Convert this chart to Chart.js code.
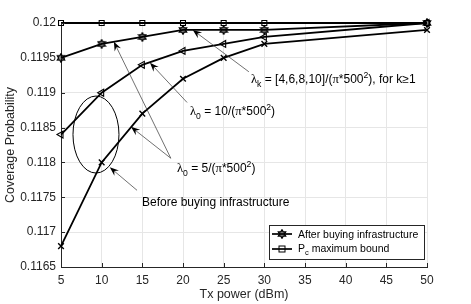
<!DOCTYPE html>
<html>
<head>
<meta charset="utf-8">
<script src="https://cdn.jsdelivr.net/npm/chart.js@4.4.1/dist/chart.umd.min.js"></script>
<style>
html, body { margin: 0; padding: 0; background: #fff; }
</style>
</head>
<body>
<canvas id="GraficoCobertura" width="471" height="304"></canvas>
<script>
/* valores */
var txPower = [5, 10, 15, 20, 25, 30, 50];
var maxBound = [0.12, 0.12, 0.12, 0.12, 0.12, 0.12, 0.12];
var afterBuying = [0.1195, 0.1197, 0.1198, 0.1199, 0.1199, 0.1199, 0.12];
var beforeLambda10 = [0.1184, 0.119, 0.1194, 0.1196, 0.1197, 0.1198, 0.12];
var beforeLambda5 = [0.1168, 0.118, 0.1187, 0.1192, 0.1195, 0.1197, 0.1199];
var xTicks = [5, 10, 15, 20, 25, 30, 35, 40, 45, 50];
var yTicks = [0.1165, 0.117, 0.1175, 0.118, 0.1185, 0.119, 0.1195, 0.12];

var FONTE = 'Liberation Sans, Arial, Helvetica, sans-serif';
var SERIF = 'Liberation Serif, DejaVu Serif, serif';

function PegarPontos(valores) {
    return txPower.map(function (x, i) { return { x: x, y: valores[i] }; });
}

/* hexagrama (marcador do matlab) */
function CriarHexagrama(tam) {
    var c = document.createElement('canvas');
    c.width = tam; c.height = tam;
    var g = c.getContext('2d');
    var cx = tam / 2, cy = tam / 2, r = tam / 2 - 0.8;
    g.strokeStyle = '#000';
    g.fillStyle = 'rgba(0,0,0,0.45)';
    g.lineWidth = 1.3;
    g.beginPath();
    for (var k = 0; k < 12; k++) {
        var ang = -Math.PI / 2 + k * Math.PI / 6;
        var rr = (k % 2 === 0) ? r : r * 0.577;
        var px = cx + rr * Math.cos(ang), py = cy + rr * Math.sin(ang);
        if (k === 0) g.moveTo(px, py); else g.lineTo(px, py);
    }
    g.closePath();
    g.fill();
    g.stroke();
    return c;
}
var hexagrama = CriarHexagrama(10);

/* texto com subscrito / sobrescrito */
function TextoRico(ctx, x, y, partes, tam) {
    var cx = x;
    ctx.textBaseline = 'alphabetic';
    ctx.textAlign = 'left';
    partes.forEach(function (p) {
        var f = tam, dy = 0, fam = FONTE;
        if (p[1] === 'sub') { f = tam * 0.72; dy = tam * 0.32; }
        if (p[1] === 'sup') { f = tam * 0.72; dy = -tam * 0.42; }
        if (p[1] === 'sym') { fam = SERIF; f = tam * 1.05; }
        ctx.font = f + 'px ' + fam;
        ctx.fillText(p[0], cx, y + dy);
        cx += ctx.measureText(p[0]).width;
    });
}

function Seta(ctx, x1, y1, x2, y2) {
    var ang = Math.atan2(y2 - y1, x2 - x1);
    var L = 9, W = 3.5;
    ctx.strokeStyle = '#333';
    ctx.lineWidth = 0.7;
    ctx.beginPath();
    ctx.moveTo(x1, y1);
    ctx.lineTo(x2 - Math.cos(ang) * L * 0.6, y2 - Math.sin(ang) * L * 0.6);
    ctx.stroke();
    ctx.fillStyle = '#000';
    ctx.save();
    ctx.translate(x2, y2);
    ctx.rotate(ang);
    ctx.beginPath();
    ctx.moveTo(0, 0);
    ctx.lineTo(-L, -W);
    ctx.lineTo(-L * 0.65, 0);
    ctx.lineTo(-L, W);
    ctx.closePath();
    ctx.fill();
    ctx.restore();
}

var anotacoes = {
    id: 'anotacoes',
    afterDraw: function (chart) {
        var ctx = chart.ctx;
        var sx = chart.scales.x, sy = chart.scales.y;
        var area = chart.chartArea;
        function P(x, y) { return [sx.getPixelForValue(x), sy.getPixelForValue(y)]; }

        ctx.save();
        /* ticks para dentro */
        ctx.strokeStyle = '#262626';
        ctx.lineWidth = 1;
        xTicks.forEach(function (t) {
            var px = Math.round(sx.getPixelForValue(t)) + 0.5;
            ctx.beginPath(); ctx.moveTo(px, area.bottom); ctx.lineTo(px, area.bottom - 4); ctx.stroke();
        });
        yTicks.forEach(function (t) {
            var py = Math.round(sy.getPixelForValue(t)) + 0.5;
            ctx.beginPath(); ctx.moveTo(area.left, py); ctx.lineTo(area.left + 4, py); ctx.stroke();
        });

        /* elipse */
        var c = P(9.3, 0.11840);
        ctx.strokeStyle = '#000';
        ctx.lineWidth = 1;
        ctx.beginPath();
        ctx.ellipse(c[0], c[1], 23, 38.5, 0, 0, Math.PI * 2);
        ctx.stroke();

        /* setas */
        var a, b;
        a = P(28.1, 0.11930); b = P(21.2, 0.11990); Seta(ctx, a[0], a[1], b[0], b[1]);
        a = P(20.5, 0.11886); b = P(15.94, 0.11943); Seta(ctx, a[0], a[1], b[0], b[1]);
        a = P(18.5, 0.11806); b = P(11.5, 0.11973); Seta(ctx, a[0], a[1], b[0], b[1]);
        b = P(13.6, 0.11851); Seta(ctx, a[0], a[1], b[0], b[1]);
        a = P(14.35, 0.11760); b = P(11.0, 0.11793); Seta(ctx, a[0], a[1], b[0], b[1]);

        /* textos */
        ctx.fillStyle = '#000';
        var t;
        t = P(28.36, 0.11914);
        TextoRico(ctx, t[0], t[1], [['\u03bb', 'sym'], ['k', 'sub'], [' = [4,6,8,10]/(', ''], ['\u03c0', 'sym'], ['*500', ''], ['2', 'sup'], ['), for k', ''], ['\u2265', ''], ['1', '']], 12);
        t = P(20.86, 0.11868);
        TextoRico(ctx, t[0], t[1], [['\u03bb', 'sym'], ['0', 'sub'], [' = 10/(', ''], ['\u03c0', 'sym'], ['*500', ''], ['2', 'sup'], [')', '']], 12);
        t = P(19.26, 0.11786);
        TextoRico(ctx, t[0], t[1], [['\u03bb', 'sym'], ['0', 'sub'], [' = 5/(', ''], ['\u03c0', 'sym'], ['*500', ''], ['2', 'sup'], [')', '']], 12);
        t = P(14.96, 0.11738);
        TextoRico(ctx, t[0], t[1], [['Before buying infrastructure', '']], 12);

        /* legenda */
        var lw = 155, lh = 34;
        var lx = area.right - 3 - lw, ly = area.bottom - 8 - lh;
        ctx.fillStyle = '#fff';
        ctx.fillRect(lx, ly, lw, lh);
        ctx.strokeStyle = '#262626';
        ctx.lineWidth = 1;
        ctx.strokeRect(Math.round(lx) + 0.5, Math.round(ly) + 0.5, lw, lh);
        var linhas = [ly + 9, ly + 24];
        ctx.strokeStyle = '#000';
        ctx.lineWidth = 1.7;
        linhas.forEach(function (yy) {
            ctx.beginPath(); ctx.moveTo(lx + 3, yy); ctx.lineTo(lx + 23, yy); ctx.stroke();
        });
        ctx.drawImage(hexagrama, lx + 13 - 5, linhas[0] - 5);
        ctx.lineWidth = 1;
        ctx.strokeRect(lx + 10, linhas[1] - 3, 6, 6);
        ctx.fillStyle = '#000';
        TextoRico(ctx, lx + 29, linhas[0] + 4, [['After buying infrastructure', '']], 10.5);
        TextoRico(ctx, lx + 29, linhas[1] + 3, [['P', ''], ['c', 'sub'], [' maximum bound', '']], 10.5);
        ctx.restore();
    }
};

var ctx = document.getElementById('GraficoCobertura').getContext('2d');
var grafico = new Chart(ctx, {
    type: 'line',
    data: {
        datasets: [{
            label: 'Before lambda0 = 5',
            data: PegarPontos(beforeLambda5),
            borderColor: '#000',
            backgroundColor: 'rgba(0,0,0,0)',
            borderWidth: 1.8,
            pointStyle: 'crossRot',
            pointRadius: 4,
            pointBorderWidth: 1.4,
            clip: false
        }, {
            label: 'Before lambda0 = 10',
            data: PegarPontos(beforeLambda10),
            borderColor: '#000',
            backgroundColor: 'rgba(0,0,0,0)',
            borderWidth: 1.8,
            pointStyle: 'triangle',
            pointRotation: -90,
            pointRadius: 4,
            pointBorderWidth: 1.1,
            clip: false
        }, {
            label: 'After buying infrastructure',
            data: PegarPontos(afterBuying),
            borderColor: '#000',
            backgroundColor: 'rgba(0,0,0,0)',
            borderWidth: 1.8,
            pointStyle: hexagrama,
            pointRadius: 5,
            clip: false
        }, {
            label: 'Pc maximum bound',
            data: PegarPontos(maxBound),
            borderColor: '#000',
            backgroundColor: 'rgba(0,0,0,0)',
            borderWidth: 1.8,
            pointStyle: 'rect',
            pointRadius: 3.5,
            pointBorderWidth: 1.1,
            clip: false
        }]
    },
    options: {
        responsive: false,
        animation: false,
        devicePixelRatio: 1,
        layout: { padding: { left: 0, right: 44, top: 23, bottom: 0 } },
        plugins: {
            legend: { display: false },
            tooltip: { enabled: false }
        },
        scales: {
            x: {
                type: 'linear',
                min: 5,
                max: 50,
                afterFit: function (s) { s.height = 37; },
                afterBuildTicks: function (s) { s.ticks = xTicks.map(function (v) { return { value: v }; }); },
                grid: { color: '#e6e6e6', drawTicks: false },
                border: { color: '#262626', width: 1 },
                ticks: { color: '#262626', padding: 6, font: { family: FONTE, size: 12 } },
                title: { display: true, text: 'Tx power (dBm)', color: '#262626', padding: { top: 0, bottom: 2 }, font: { family: FONTE, size: 12.5 } }
            },
            y: {
                min: 0.1165,
                max: 0.12,
                afterFit: function (s) { s.width = 61; },
                afterBuildTicks: function (s) { s.ticks = yTicks.map(function (v) { return { value: v }; }); },
                grid: { color: '#e6e6e6', drawTicks: false },
                border: { color: '#262626', width: 1 },
                ticks: {
                    color: '#262626',
                    padding: 5,
                    font: { family: FONTE, size: 12 },
                    callback: function (v) { return parseFloat(v.toFixed(4)).toString(); }
                },
                title: { display: true, text: 'Coverage Probability', color: '#262626', padding: { top: 3, bottom: 0 }, font: { family: FONTE, size: 12.5 } }
            }
        }
    },
    plugins: [anotacoes]
});
</script>
</body>
</html>
